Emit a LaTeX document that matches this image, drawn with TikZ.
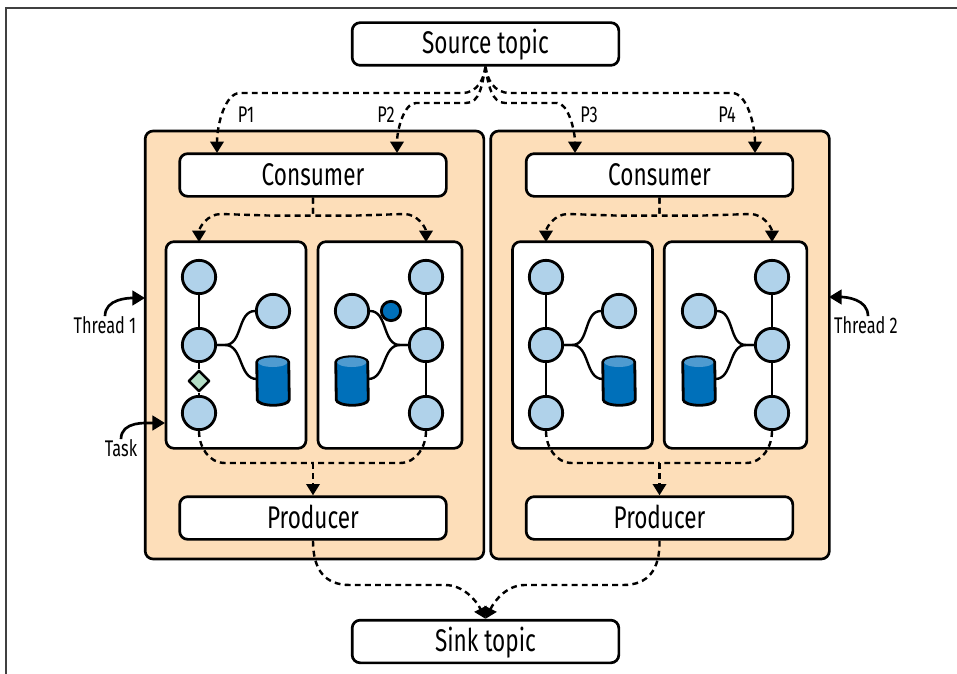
\documentclass[tikz,border=0pt]{standalone}
\usepackage{fontspec}
\setmainfont[FakeStretch=0.72]{Fira Sans}
\usetikzlibrary{arrows.meta,calc,shapes.geometric}
\definecolor{threadfill}{HTML}{FDDEB9}
\definecolor{opfill}{HTML}{B0D2EA}
\definecolor{storefill}{HTML}{0070BA}
\definecolor{storetop}{HTML}{4F9BD0}
\definecolor{checkfill}{HTML}{B4DEC6}
\tikzset{
	threadbox/.style={draw, line width=2pt, rounded corners=6pt, fill=threadfill, minimum width=254pt, minimum height=321pt},
	clientbox/.style={draw, line width=2pt, rounded corners=6pt, fill=white, minimum width=200pt, minimum height=32pt, text height=19pt, text depth=4pt, inner ysep=0pt, font=\fontsize{23.5}{26}\selectfont},
	topicbox/.style={clientbox},
	taskbox/.style={draw, line width=2pt, rounded corners=6pt, fill=white, minimum height=155pt},
	opnode/.style={draw, circle, line width=2.1pt, fill=opfill, minimum size=25pt, inner sep=0pt},
	statenode/.style={draw, circle, line width=2.1pt, fill=storefill, minimum size=14.5pt, inner sep=0pt},
	checknode/.style={draw, diamond, line width=1.8pt, line join=round, fill=checkfill, minimum size=16pt, inner sep=0pt},
	storebody/.style={minimum width=24pt, minimum height=36pt, inner sep=0pt},
	label/.style={font=\fontsize{17}{20}\selectfont, inner sep=0pt},
	flow/.style={line width=1.8pt, dash pattern=on 4.4pt off 3.2pt, -{Triangle[length=8.5pt,width=10pt]}},
	flowplain/.style={line width=1.8pt, dash pattern=on 4.4pt off 3.2pt},
	link/.style={line width=1.8pt},
	pointer/.style={line width=2pt, -{Triangle[length=9.5pt,width=11pt]}},
}
\begin{document}
\begin{tikzpicture}[x=0.75pt,y=-0.75pt]
	\useasboundingbox (0,0) rectangle (957,674);
	\draw[line width=1.2pt, black!75] (6,674) -- (6,8) -- (957,8);

	\node[topicbox] (source) at (485.5,44) {Source topic};
	\node[topicbox] (sink) at (485.5,641.5) {Sink topic};

	\node[threadbox] (thread1) at (314.5,345) {};
	\node[threadbox] (thread2) at (660,345) {};

	\node[clientbox] (consumer1) at (313,175) {Consumer};
	\node[clientbox] (consumer2) at (659.5,175) {Consumer};
	\node[clientbox] (producer1) at (313,518) {Producer};
	\node[clientbox] (producer2) at (659.5,518) {Producer};

	\node[taskbox, minimum width=105pt] (task1) at (236,345) {};
	\node[taskbox, minimum width=108pt] (task2) at (390,345) {};
	\node[taskbox, minimum width=105pt] (task3) at (582.5,345) {};
	\node[taskbox, minimum width=107pt] (task4) at (735.5,345) {};

	% task nodes
	\node[opnode] (a1) at (199,277) {};
	\node[opnode] (a2) at (199,345) {};
	\node[opnode] (a3) at (199,413) {};
	\node[opnode] (a4) at (273,311) {};
	\node[checknode] (a5) at (199,381) {};
	\node[storebody] (a6) at (273,381) {};

	\node[opnode] (b1) at (426,277) {};
	\node[opnode] (b2) at (426,345) {};
	\node[opnode] (b3) at (426,413) {};
	\node[opnode] (b4) at (352,311) {};
	\node[storebody] (b6) at (352,381) {};

	\node[opnode] (c1) at (546,277) {};
	\node[opnode] (c2) at (546,345) {};
	\node[opnode] (c3) at (546,413) {};
	\node[opnode] (c4) at (619,311) {};
	\node[storebody] (c6) at (619,381) {};

	\node[opnode] (d1) at (772,277) {};
	\node[opnode] (d2) at (772,345) {};
	\node[opnode] (d3) at (772,413) {};
	\node[opnode] (d4) at (699,311) {};
	\node[storebody] (d6) at (699,381) {};

	% stores
	\foreach \s in {a6,b6,c6,d6}{
		\draw[line width=2.1pt, fill=storefill, line join=round] ($(\s.north west)+(0,-4.1pt)$) arc (180:0:12pt and 4.1pt) -- ($(\s.south east)+(0,4.1pt)$) arc (0:-180:12pt and 4.1pt) -- cycle;
		\fill[storetop] ($(\s.north west)+(1pt,-4.1pt)$) arc (180:360:11pt and 3.6pt) arc (0:180:11pt and 3.6pt) -- cycle;
	}

	\draw[link] (a1) -- (a2);
	\draw[link] (a2) -- (a5);
	\draw[link] (a5) -- (a3);
	\draw[link] (b1) -- (b2);
	\draw[link] (b2) -- (b3);
	\draw[link] (c1) -- (c2);
	\draw[link] (c2) -- (c3);
	\draw[link] (d1) -- (d2);
	\draw[link] (d2) -- (d3);

	\foreach \o/\n/\s in {a2/a4/a6,c2/c4/c6}{
		\draw[link] (\o.east) -- ++(8,0) to[out=0,in=180] (\n.west);
		\draw[link] (\o.east) -- ++(8,0) to[out=0,in=180] (\s.west |- 0,379);
	}
	\foreach \o/\n/\s in {b2/b4/b6,d2/d4/d6}{
		\draw[link] (\o.west) -- ++(-8,0) to[out=180,in=0] (\n.east);
		\draw[link] (\o.west) -- ++(-8,0) to[out=180,in=0] (\s.east |- 0,379);
	}
	\node[statenode] (b5) at (391,311) {};

	% partitions
	\coordinate (fork) at (source.south);
	\draw[flow] (fork) .. controls (484,78) and (478,93) .. (462,93) -- (240,93) .. controls (225,93) and (217,125) .. (217,153);
	\draw[flow] (fork) .. controls (482,85) and (480,103) .. (466,103) -- (416,103) .. controls (404,103) and (397,130) .. (397,153);
	\draw[flow] (fork) .. controls (488,85) and (492,103) .. (505,103) -- (557,103) .. controls (568,103) and (575,130) .. (575,153);
	\draw[flow] (fork) .. controls (487,78) and (493,93) .. (510,93) -- (732,93) .. controls (747,93) and (755,125) .. (755,153);

	\node[label] (p1) at (246,115) {P1};
	\node[label] (p2) at (386,115) {P2};
	\node[label] (p3) at (589,115) {P3};
	\node[label] (p4) at (727,115) {P4};

	% consumer to tasks
	\foreach \c/\l/\r in {consumer1/a/b,consumer2/c/d}{
		\draw[flow] (\c.south) |- ++(-40,18) -- ($(\l1.north |- 0,214)+(22,0)$) to[out=180,in=90] ($(\l1.north |- 0,242)$);
		\draw[flow] (\c.south) |- ++(40,18) -- ($(\r1.north |- 0,214)+(-22,0)$) to[out=0,in=90] ($(\r1.north |- 0,242)$);
	}

	% tasks to producer
	\foreach \p/\l/\r in {producer1/a/b,producer2/c/d}{
		\coordinate (m) at (\p.north |- 0,463);
		\draw[flowplain] (\l3.south) to[out=-90,in=180] ($(\l3.south |- 0,463)+(26,0)$) -- (m);
		\draw[flowplain] (\r3.south) to[out=-90,in=0] ($(\r3.south |- 0,463)+(-26,0)$) -- (m);
		\draw[flow] (m) -- (\p.north);
	}

	% producer to sink
	\draw[flow] (producer1.south) .. controls (313,570) and (325,585) .. (350,585) -- (445,585) .. controls (463,585) and (476,600) .. (sink.north);
	\draw[flow] (producer2.south) .. controls (660,570) and (648,585) .. (623,585) -- (525,585) .. controls (507,585) and (495,600) .. (sink.north);

	% side labels
	\node[label] (lt1) at (105,325) {Thread 1};
	\node[label] (lt2) at (866,325) {Thread 2};
	\node[label] (ltask) at (121,448) {Task};
	\coordinate (tt1) at (145,298);
	\coordinate (tt2) at (829,297);
	\coordinate (ttask) at (165,423);
	\draw[pointer] (lt1.north) to[out=90,in=180] (tt1);
	\draw[pointer] ($(lt2.north)+(2,0)$) to[out=90,in=0] (tt2);
	\draw[pointer] (ltask.north) to[out=90,in=180] (ttask);
\end{tikzpicture}
\end{document}
